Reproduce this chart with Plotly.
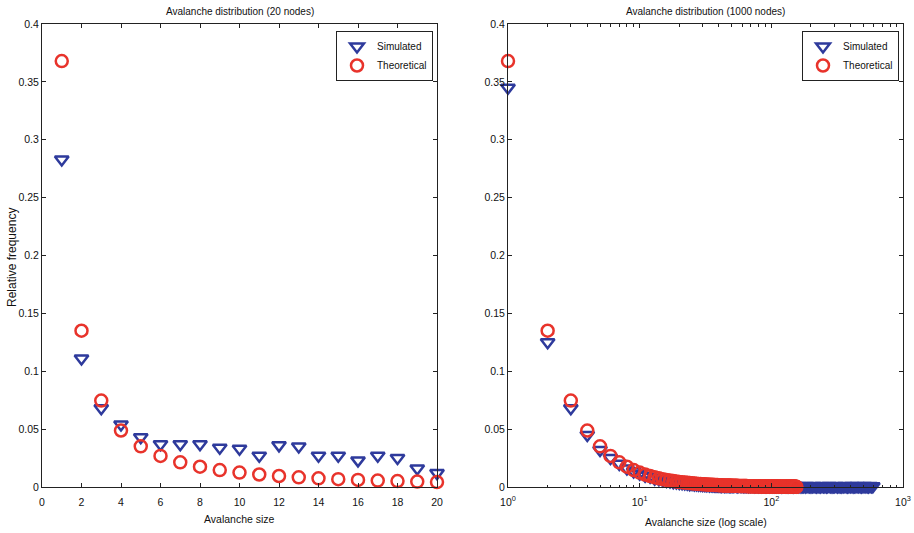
import plotly.graph_objects as go

# ---------------- data ----------------
# Left panel (20 nodes)
sizes_20 = list(range(1, 21))
sim_20 = [0.283, 0.111, 0.068, 0.054, 0.043, 0.037, 0.037, 0.037, 0.034, 0.033,
          0.027, 0.036, 0.035, 0.027, 0.027, 0.023, 0.027, 0.025, 0.016, 0.012]
theo_20 = [0.368, 0.135, 0.0747, 0.0488, 0.0351, 0.0268, 0.0213, 0.0175, 0.0146, 0.0125,
           0.0108, 0.0095, 0.0084, 0.0075, 0.0068, 0.0061, 0.0056, 0.0051, 0.0047, 0.0043]

# Right panel (1000 nodes)
sim_1000_head = [0.345, 0.125, 0.068, 0.045, 0.032, 0.025, 0.020, 0.016, 0.0135, 0.0115,
                 0.0098, 0.0088, 0.0072, 0.0068, 0.0058, 0.0052, 0.0049, 0.0041, 0.0040, 0.0034,
                 0.0033, 0.0030, 0.0029, 0.0024, 0.0026, 0.0021, 0.0023, 0.0019, 0.0020, 0.0017,
                 0.0018, 0.0015, 0.0017, 0.0014, 0.0016, 0.0013, 0.0014, 0.0012, 0.0013, 0.0011]
sim_1000_tail_sizes = [41, 42, 43, 44, 45, 46, 47, 48, 49, 50,
                       51, 52, 54, 55, 56, 58, 59, 61, 62, 64,
                       65, 67, 69, 70, 72, 74, 76, 78, 80, 82,
                       84, 86, 88, 90, 92, 95, 97, 100, 102, 105,
                       107, 110, 113, 116, 119, 122, 125, 128, 131, 134,
                       138, 141, 145, 148, 152, 156, 160, 164, 168, 172,
                       176, 181, 185, 190, 195, 200, 205, 210, 215, 220,
                       226, 231, 237, 243, 249, 255, 262, 268, 275, 282,
                       289, 296, 303, 311, 319, 327, 335, 343, 352, 361,
                       370, 379, 388, 398, 408, 418, 428, 439, 450, 461,
                       473, 485, 497, 509, 522, 535, 548, 562, 576, 590]
sim_1000_tail = [0.0012, 0.0009, 0.0013, 0.0010, 0.0011, 0.0008, 0.0012, 0.0009, 0.0010, 0.0011,
                 0.0008, 0.0010, 0.0012, 0.0007, 0.0009, 0.0011, 0.0008, 0.0010, 0.0007, 0.0009,
                 0.0010, 0.0007, 0.0009, 0.0008, 0.0011, 0.0006, 0.0008, 0.0009, 0.0007, 0.0010,
                 0.0006, 0.0008, 0.0009, 0.0007, 0.0006, 0.0009, 0.0007, 0.0008, 0.0006, 0.0007,
                 0.0009, 0.0006, 0.0007, 0.0008, 0.0005, 0.0007, 0.0009, 0.0006, 0.0007, 0.0005,
                 0.0008, 0.0006, 0.0007, 0.0005, 0.0008, 0.0006, 0.0007, 0.0009, 0.0005, 0.0006,
                 0.0007, 0.0005, 0.0008, 0.0006, 0.0007, 0.0005, 0.0006, 0.0008, 0.0006, 0.0005,
                 0.0007, 0.0006, 0.0005, 0.0008, 0.0006, 0.0007, 0.0005, 0.0006, 0.0008, 0.0006,
                 0.0005, 0.0007, 0.0006, 0.0008, 0.0005, 0.0006, 0.0007, 0.0005, 0.0006, 0.0008,
                 0.0006, 0.0005, 0.0007, 0.0006, 0.0008, 0.0005, 0.0006, 0.0007, 0.0009, 0.0006,
                 0.0007, 0.0005, 0.0006, 0.0008, 0.0006, 0.0007, 0.0005, 0.0008, 0.0006, 0.0007]

theo_1000 = [0.368, 0.135, 0.0747, 0.0488, 0.0351, 0.0268, 0.0213, 0.0175, 0.0146, 0.0125,
             0.0108, 0.0095, 0.0084, 0.0075, 0.0068, 0.0061, 0.0056, 0.0051, 0.0047, 0.0043,
             0.00415, 0.00387, 0.00362, 0.00339, 0.00319, 0.00301, 0.00284, 0.00269, 0.00255, 0.00243,
             0.00231, 0.0022, 0.0021, 0.00201, 0.00193, 0.00185, 0.00177, 0.0017, 0.00164, 0.00158,
             0.0015, 0.0015, 0.0014, 0.0014, 0.0013, 0.0013, 0.0012, 0.0012, 0.0012, 0.0011,
             0.0011, 0.0011, 0.001, 0.001, 0.00098, 0.00095, 0.00093, 0.0009, 0.00088, 0.00086,
             0.00083, 0.00082, 0.0008, 0.00078, 0.00076, 0.00074, 0.00073, 0.00071, 0.0007, 0.00068,
             0.00067, 0.00065, 0.00064, 0.00063, 0.00061, 0.0006, 0.00059, 0.00058, 0.00057, 0.00056,
             0.00055, 0.00054, 0.00053, 0.00052, 0.00051, 0.0005, 0.00049, 0.00048, 0.00047, 0.00047,
             0.00046, 0.00045, 0.00044, 0.00044, 0.00043, 0.00042, 0.00042, 0.00041, 0.0004, 0.0004,
             0.00039, 0.00039, 0.00038, 0.00037, 0.00037, 0.00036, 0.00036, 0.00035, 0.00035, 0.00034,
             0.00034, 0.00033, 0.00033, 0.00032, 0.00032, 0.00032, 0.00031, 0.00031, 0.0003, 0.0003,
             0.0003, 0.00029, 0.00029, 0.00028, 0.00028, 0.00028, 0.00027, 0.00027, 0.00027, 0.00026,
             0.00026, 0.00026, 0.00025, 0.00025, 0.00025, 0.00024, 0.00024, 0.00024, 0.00024, 0.00023,
             0.00023, 0.00023, 0.00022, 0.00022, 0.00022, 0.00022, 0.00021, 0.00021, 0.00021, 0.00021,
             0.0002, 0.0002, 0.0002, 0.0002, 0.0002]

y_ticks = [0, 0.05, 0.1, 0.15, 0.2, 0.25, 0.3, 0.35, 0.4]
x_ticks_left = [0, 2, 4, 6, 8, 10, 12, 14, 16, 18, 20]
x_ticks_right = [1, 10, 100, 1000]
x_ticktext_right = ["10<sup>0</sup>", "10<sup>1</sup>", "10<sup>2</sup>", "10<sup>3</sup>"]
x_minor_right = [2, 3, 4, 5, 6, 7, 8, 9, 20, 30, 40, 50, 60, 70, 80, 90,
                 200, 300, 400, 500, 600, 700, 800, 900]

# ---------------- styling ----------------
BLUE = "#2e3a9c"
RED = "#e8332b"
FONT = "Liberation Sans Narrow, Liberation Sans, Arial, sans-serif"

sim_1000_sizes = list(range(1, len(sim_1000_head) + 1)) + sim_1000_tail_sizes
sim_1000 = sim_1000_head + sim_1000_tail
theo_1000_sizes = list(range(1, len(theo_1000) + 1))

fig = go.Figure()

tri = dict(symbol="triangle-down-open", size=12, color=BLUE, line=dict(width=2.5, color=BLUE))
circ = dict(symbol="circle-open", size=12, color=RED, line=dict(width=2.5, color=RED))

fig.add_trace(go.Scatter(x=sizes_20, y=sim_20, mode="markers", name="Simulated",
                         marker=tri, xaxis="x", yaxis="y", legend="legend", cliponaxis=False))
fig.add_trace(go.Scatter(x=sizes_20, y=theo_20, mode="markers", name="Theoretical",
                         marker=circ, xaxis="x", yaxis="y", legend="legend", cliponaxis=False))
fig.add_trace(go.Scatter(x=sim_1000_sizes, y=sim_1000, mode="markers", name="Simulated",
                         marker=tri, xaxis="x2", yaxis="y2", legend="legend2", cliponaxis=False))
fig.add_trace(go.Scatter(x=theo_1000_sizes, y=theo_1000, mode="markers", name="Theoretical",
                         marker=circ, xaxis="x2", yaxis="y2", legend="legend2", cliponaxis=False))

W, H = 914, 533
L1, R1 = 42, 437
L2, R2 = 508, 903
TOP, BOT = 24, 487

axis_common = dict(showline=True, linecolor="#222", linewidth=1, mirror="ticks",
                   ticks="inside", ticklen=4, tickcolor="#222", showgrid=False,
                   zeroline=False, layer="above traces", automargin=False,
                   tickfont=dict(family=FONT, size=10.5, color="#111"))

def ann(text, xpx, ypx, size=10, angle=0):
    return dict(text=text, x=xpx / W, y=1 - ypx / H, xref="paper", yref="paper",
                xanchor="center", yanchor="middle", showarrow=False,
                textangle=angle, font=dict(family=FONT, size=size, color="#111"))

legend_style = dict(yanchor="top", xanchor="right", bordercolor="#222", borderwidth=1,
                    bgcolor="white", font=dict(family=FONT, size=10, color="#111"),
                    itemwidth=30, tracegroupgap=0)

fig.update_layout(
    width=W, height=H,
    template="none",
    margin=dict(l=0, r=0, t=0, b=0, autoexpand=False),
    paper_bgcolor="white", plot_bgcolor="white",
    font=dict(family=FONT, size=10, color="#111"),
    xaxis=dict(domain=[L1 / W, R1 / W], range=[0, 20], tickvals=x_ticks_left,
               anchor="y", ticklabelstandoff=5, **axis_common),
    yaxis=dict(domain=[1 - BOT / H, 1 - TOP / H], range=[0, 0.4], tickvals=y_ticks,
               anchor="x", **axis_common),
    xaxis2=dict(domain=[L2 / W, R2 / W], type="log", range=[0, 3], tickvals=x_ticks_right,
                ticktext=x_ticktext_right, anchor="y2", ticklabelstandoff=5,
                minor=dict(tickvals=x_minor_right, ticks="inside", ticklen=2.5, tickcolor="#222"),
                **axis_common),
    yaxis2=dict(domain=[1 - BOT / H, 1 - TOP / H], range=[0, 0.4], tickvals=y_ticks,
                anchor="x2", **axis_common),
    legend=dict(x=433 / W, y=1 - 31 / H, **legend_style),
    legend2=dict(x=899 / W, y=1 - 31 / H, **legend_style),
    annotations=[
        ann("Avalanche distribution (20 nodes)", (L1 + R1) / 2, 11, 10),
        ann("Avalanche distribution (1000 nodes)", (L2 + R2) / 2, 11, 10),
        ann("Avalanche size", (L1 + R1) / 2, 519, 10.5),
        ann("Avalanche size (log scale)", (L2 + R2) / 2, 522, 10.5),
        ann("Relative frequency", 12, 258, 12, -90),
    ],
)

fig.write_html("out.html", config={"displayModeBar": False},
               post_script="document.body.style.margin='0';document.body.style.overflow='hidden';")
